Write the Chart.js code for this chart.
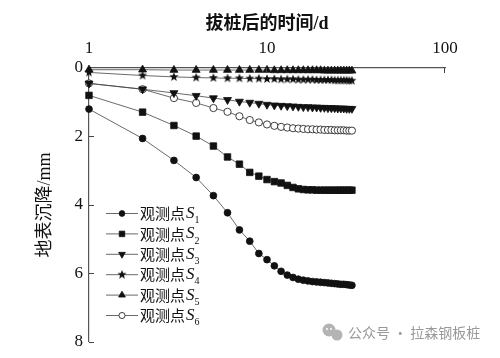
<!DOCTYPE html>
<html><head><meta charset="utf-8">
<script src="https://cdn.jsdelivr.net/npm/chart.js@4/dist/chart.umd.min.js"></script>
<style>html,body{margin:0;padding:0;background:#fff}#wrap{width:500px;height:358px;position:relative}</style>
</head><body><div id="wrap"><canvas id="c" width="500" height="358"></canvas></div>
<script>
// ---- data ----
const days = [1,2,3,4,5,6,7,8,9,10,11,12,13,14,15,16,17,18,19,20,21,22,23,24,25,26,27,28,29,30];
const xTickValues = [1, 10, 100];
const yTickValues = [0, 2, 4, 6, 8];
const seriesLabels = ['观测点S1','观测点S2','观测点S3','观测点S4','观测点S5','观测点S6'];
const s1 = [1.20,2.06,2.70,3.20,3.73,4.23,4.73,5.06,5.42,5.60,5.78,5.94,6.05,6.12,6.17,6.20,6.22,6.24,6.25,6.26,6.27,6.28,6.29,6.30,6.31,6.32,6.32,6.33,6.34,6.35];
const s2 = [0.80,1.29,1.68,1.99,2.28,2.60,2.81,3.05,3.16,3.26,3.32,3.36,3.43,3.49,3.53,3.55,3.56,3.56,3.57,3.57,3.57,3.57,3.57,3.57,3.57,3.57,3.57,3.57,3.57,3.57];
const s3 = [0.45,0.62,0.73,0.81,0.88,0.93,0.98,1.01,1.04,1.07,1.09,1.10,1.11,1.12,1.13,1.14,1.14,1.15,1.15,1.16,1.16,1.17,1.17,1.17,1.18,1.18,1.18,1.19,1.19,1.19];
const s4 = [0.13,0.22,0.26,0.28,0.29,0.30,0.30,0.31,0.31,0.32,0.32,0.33,0.33,0.33,0.34,0.34,0.34,0.34,0.35,0.35,0.35,0.35,0.35,0.36,0.36,0.36,0.36,0.36,0.37,0.37];
const s5 = [0.05,0.05,0.06,0.06,0.06,0.06,0.06,0.06,0.06,0.06,0.07,0.07,0.07,0.07,0.07,0.07,0.07,0.07,0.07,0.07,0.08,0.08,0.08,0.08,0.08,0.08,0.08,0.08,0.08,0.08];
const s6 = [0.45,0.62,0.88,1.02,1.17,1.28,1.41,1.52,1.59,1.65,1.69,1.72,1.74,1.76,1.77,1.78,1.79,1.79,1.80,1.80,1.81,1.81,1.81,1.82,1.82,1.82,1.82,1.83,1.83,1.83];
const xTitle = '拔桩后的时间/d';
const yTitle = '地表沉降/mm';
const watermark = '公众号 · 拉森钢板桩';

// ---- star marker ----
function makeStar(r) {
  const c = document.createElement('canvas');
  const s = Math.ceil(r * 2 + 2);
  c.width = s; c.height = s;
  const g = c.getContext('2d');
  g.fillStyle = '#111';
  g.beginPath();
  for (let i = 0; i < 10; i++) {
    const rad = i % 2 === 0 ? r : r * 0.42;
    const a = -Math.PI / 2 + i * Math.PI / 5;
    const px = s / 2 + rad * Math.cos(a), py = s / 2 + rad * Math.sin(a);
    i === 0 ? g.moveTo(px, py) : g.lineTo(px, py);
  }
  g.closePath(); g.fill();
  return c;
}
const starImg = makeStar(4.8);

const styles = [
  {pointStyle: 'circle', radius: 3.4, rotation: 0, bg: '#111'},
  {pointStyle: 'rect', radius: 4.6, rotation: 0, bg: '#111'},
  {pointStyle: 'triangle', radius: 4.6, rotation: 180, bg: '#111'},
  {pointStyle: starImg, radius: 4.8, rotation: 0, bg: '#111'},
  {pointStyle: 'triangle', radius: 4.6, rotation: 0, bg: '#111'},
  {pointStyle: 'circle', radius: 3.6, rotation: 0, bg: '#fff'}
];
const allSeries = [s1, s2, s3, s4, s5, s6];

const datasets = allSeries.map((vals, i) => ({
  label: seriesLabels[i],
  data: days.map((d, k) => ({x: d, y: vals[k]})),
  borderColor: '#444',
  borderWidth: 0.8,
  pointStyle: styles[i].pointStyle,
  pointRadius: styles[i].radius,
  pointRotation: styles[i].rotation,
  pointBackgroundColor: styles[i].bg,
  pointBorderColor: '#111',
  pointBorderWidth: 0.8,
  tension: 0,
  clip: false,
  order: i === 5 ? 6 : i
}));

const serif = '"Liberation Serif", "Times New Roman", "Noto Sans CJK SC", serif';

const extras = {
  id: 'extras',
  afterDraw(chart) {
    const ctx = chart.ctx;
    const xs = chart.scales.x, ys = chart.scales.y;
    const ca = chart.chartArea;
    ctx.save();
    // inward tick marks
    ctx.strokeStyle = '#444'; ctx.lineWidth = 1;
    yTickValues.slice(1).forEach(v => {
      const py = Math.round(ys.getPixelForValue(v)) + 0.5;
      ctx.beginPath(); ctx.moveTo(ca.left, py); ctx.lineTo(ca.left + 5, py); ctx.stroke();
    });
    xTickValues.slice(1).forEach(v => {
      const px = Math.round(xs.getPixelForValue(v)) - 0.5;
      ctx.beginPath(); ctx.moveTo(px, ca.top); ctx.lineTo(px, ca.top + 5); ctx.stroke();
    });
    // legend
    chart.data.datasets.forEach((ds, i) => {
      const y = 213.5 + 20.4 * i;
      ctx.strokeStyle = '#444'; ctx.lineWidth = 0.8;
      ctx.beginPath(); ctx.moveTo(106, y); ctx.lineTo(138, y); ctx.stroke();
      ctx.fillStyle = ds.pointBackgroundColor; ctx.strokeStyle = '#111'; ctx.lineWidth = 0.8;
      Chart.helpers.drawPoint(ctx, {pointStyle: ds.pointStyle, radius: ds.pointRadius * 0.85, rotation: ds.pointRotation, borderWidth: 0.8}, 122, y);
      const lbl = ds.label;
      const base = lbl.slice(0, 3), S = lbl.slice(3, 4), sub = lbl.slice(4);
      ctx.fillStyle = '#111';
      ctx.textBaseline = 'middle'; ctx.textAlign = 'left';
      ctx.font = '15px "Noto Sans CJK SC", serif';
      ctx.fillText(base, 140, y);
      let x = 140 + ctx.measureText(base).width + 1;
      ctx.font = 'italic 17px "Liberation Serif", serif';
      ctx.fillText(S, x, y);
      x += ctx.measureText(S).width;
      ctx.font = '10px "Liberation Serif", serif';
      ctx.fillText(sub, x, y + 7);
    });
    // watermark
    ctx.fillStyle = '#b4b4b4';
    ctx.beginPath(); ctx.arc(329, 330, 6.5, 0, Math.PI * 2); ctx.fill();
    ctx.beginPath(); ctx.arc(337, 335, 5.5, 0, Math.PI * 2); ctx.fill();
    ctx.fillStyle = '#fff';
    ctx.beginPath(); ctx.arc(327, 329, 1, 0, Math.PI * 2); ctx.fill();
    ctx.beginPath(); ctx.arc(331, 329, 1, 0, Math.PI * 2); ctx.fill();
    ctx.fillStyle = '#999';
    ctx.font = '14px "Noto Sans CJK SC", sans-serif';
    ctx.textBaseline = 'middle'; ctx.textAlign = 'left';
    ctx.fillText(watermark, 348, 333);
    ctx.restore();
  }
};

new Chart(document.getElementById('c'), {
  type: 'line',
  data: {datasets},
  plugins: [extras],
  options: {
    responsive: false,
    devicePixelRatio: 1,
    animation: false,
    layout: {padding: {left: 0, right: 55, top: 0, bottom: 13}},
    plugins: {legend: {display: false}, tooltip: {enabled: false}},
    scales: {
      x: {
        type: 'logarithmic',
        position: 'top',
        min: 1, max: 100,
        afterBuildTicks: s => { s.ticks = xTickValues.map(v => ({value: v})); },
        afterFit: s => { s.height = 68; },
        grid: {display: false, drawTicks: false},
        border: {display: true, color: '#555', width: 1.2},
        ticks: {autoSkip: false, maxRotation: 0, padding: 9, color: '#111',
          font: {family: serif, size: 17}, callback: v => String(v)},
        title: {display: true, text: xTitle, color: '#111',
          font: {family: serif, size: 18, weight: 'bold'}, padding: {top: 14, bottom: 0}}
      },
      y: {
        type: 'linear',
        reverse: true,
        min: 0, max: 8,
        afterBuildTicks: s => { s.ticks = yTickValues.map(v => ({value: v})); },
        afterFit: s => { s.width = 89; },
        grid: {display: false, drawTicks: false},
        border: {display: true, color: '#555', width: 1.2},
        ticks: {padding: 6, color: '#111', font: {family: serif, size: 17}},
        title: {display: true, text: yTitle, color: '#111',
          font: {family: serif, size: 18}, padding: {top: 34, bottom: 0}}
      }
    }
  }
});
</script></body></html>
